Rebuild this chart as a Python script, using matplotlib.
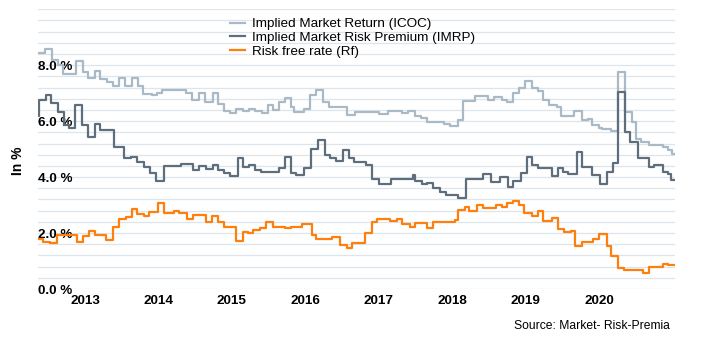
import matplotlib
matplotlib.use("Agg")
import matplotlib.pyplot as plt
import numpy as np

plt.rcParams['font.family'] = ['Liberation Sans', 'DejaVu Sans']

# ---- data (decimal years of step starts, values in %) ----
icoc_t = [2012.36, 2012.46, 2012.55, 2012.63, 2012.70, 2012.88, 2012.97, 2013.04, 2013.14, 2013.20,
          2013.30, 2013.38, 2013.46, 2013.54, 2013.64, 2013.72, 2013.79, 2013.91, 2013.98, 2014.05,
          2014.37, 2014.45, 2014.55, 2014.63, 2014.74, 2014.81, 2014.89, 2014.98, 2015.05, 2015.15,
          2015.23, 2015.32, 2015.41, 2015.49, 2015.56, 2015.64, 2015.72, 2015.80, 2015.85, 2015.98,
          2016.06, 2016.14, 2016.24, 2016.32, 2016.57, 2016.68, 2017.00, 2017.13, 2017.32, 2017.40,
          2017.49, 2017.57, 2017.66, 2017.88, 2017.97, 2018.08, 2018.15, 2018.31, 2018.48, 2018.57,
          2018.67, 2018.75, 2018.83, 2018.91, 2018.99, 2019.08, 2019.17, 2019.24, 2019.32, 2019.42,
          2019.48, 2019.66, 2019.76, 2019.84, 2019.90, 2019.99, 2020.04, 2020.16, 2020.25, 2020.35,
          2020.44, 2020.50, 2020.57, 2020.68, 2020.76, 2020.86, 2020.94, 2020.99]
icoc_v = [8.44, 8.57, 8.18, 8.00, 7.68, 8.15, 7.75, 7.55, 7.81, 7.52,
          7.40, 7.25, 7.56, 7.27, 7.56, 7.27, 6.98, 6.94, 7.00, 7.13,
          6.99, 6.77, 6.99, 6.69, 6.99, 6.63, 6.37, 6.31, 6.43, 6.38,
          6.43, 6.36, 6.31, 6.57, 6.39, 6.69, 6.83, 6.49, 6.33, 6.45,
          6.93, 7.10, 6.69, 6.51, 6.21, 6.33, 6.25, 6.36, 6.30, 6.36,
          6.18, 6.10, 5.98, 5.89, 5.81, 6.06, 6.71, 6.89, 6.77, 6.85,
          6.77, 6.69, 7.01, 7.17, 7.43, 7.17, 7.08, 6.77, 6.57, 6.49,
          6.19, 6.37, 6.04, 6.08, 5.86, 5.74, 5.72, 5.66, 7.76, 6.33,
          5.98, 5.38, 5.26, 5.14, 5.16, 5.08, 4.96, 4.82]

imrp_t = [2012.36, 2012.38, 2012.47, 2012.54, 2012.63, 2012.71, 2012.78, 2012.86, 2012.96, 2013.04,
          2013.14, 2013.20, 2013.39, 2013.53, 2013.63, 2013.71, 2013.80, 2013.88, 2013.97, 2014.07,
          2014.30, 2014.47, 2014.55, 2014.64, 2014.74, 2014.81, 2014.89, 2014.98, 2015.08, 2015.15,
          2015.23, 2015.32, 2015.39, 2015.64, 2015.72, 2015.80, 2015.87, 2015.98, 2016.07, 2016.17,
          2016.26, 2016.33, 2016.41, 2016.51, 2016.59, 2016.66, 2016.83, 2016.90, 2017.00, 2017.16,
          2017.47, 2017.49, 2017.58, 2017.66, 2017.74, 2017.83, 2017.91, 2018.08, 2018.18, 2018.41,
          2018.52, 2018.65, 2018.76, 2018.83, 2018.93, 2019.02, 2019.09, 2019.17, 2019.36, 2019.44,
          2019.50, 2019.58, 2019.69, 2019.77, 2019.90, 2020.01, 2020.11, 2020.18, 2020.26, 2020.35,
          2020.42, 2020.53, 2020.67, 2020.75, 2020.86, 2020.94, 2020.98]
imrp_v = [6.20, 6.75, 6.93, 6.65, 6.33, 5.86, 5.77, 6.57, 5.86, 5.44,
          5.89, 5.70, 5.06, 4.67, 4.73, 4.55, 4.37, 4.13, 3.87, 4.39,
          4.46, 4.25, 4.39, 4.29, 4.43, 4.25, 4.13, 4.04, 4.70, 4.37,
          4.43, 4.25, 4.19, 4.31, 4.73, 4.15, 4.07, 4.31, 5.02, 5.32,
          4.79, 4.67, 4.58, 4.96, 4.70, 4.55, 4.44, 3.95, 3.74, 3.92,
          4.06, 3.86, 3.74, 3.80, 3.60, 3.48, 3.36, 3.26, 3.95, 4.10,
          3.83, 3.99, 3.63, 3.87, 4.13, 4.73, 4.43, 4.33, 4.05, 4.31,
          4.19, 4.10, 4.90, 4.35, 4.07, 3.74, 4.19, 4.52, 7.05, 5.62,
          5.26, 4.70, 4.35, 4.43, 4.19, 4.10, 3.89]

rf_t = [2012.36, 2012.43, 2012.52, 2012.62, 2012.89, 2012.97, 2013.05, 2013.14, 2013.29, 2013.38,
        2013.46, 2013.56, 2013.64, 2013.71, 2013.80, 2013.87, 2013.99, 2014.07, 2014.21, 2014.28,
        2014.39, 2014.47, 2014.64, 2014.73, 2014.81, 2014.89, 2015.05, 2015.15, 2015.22, 2015.28,
        2015.38, 2015.47, 2015.56, 2015.72, 2015.81, 2015.95, 2016.09, 2016.15, 2016.26, 2016.36,
        2016.47, 2016.57, 2016.64, 2016.81, 2016.90, 2016.98, 2017.15, 2017.25, 2017.32, 2017.42,
        2017.49, 2017.66, 2017.73, 2018.03, 2018.08, 2018.17, 2018.23, 2018.34, 2018.41, 2018.50,
        2018.60, 2018.67, 2018.75, 2018.82, 2018.91, 2018.98, 2019.08, 2019.17, 2019.24, 2019.35,
        2019.44, 2019.52, 2019.61, 2019.67, 2019.77, 2019.92, 2019.99, 2020.10, 2020.16, 2020.26,
        2020.34, 2020.60, 2020.67, 2020.86, 2020.94, 2020.99]
rf_v = [1.80, 1.69, 1.63, 1.93, 1.69, 1.89, 2.07, 1.93, 1.75, 2.20,
        2.52, 2.58, 2.87, 2.69, 2.61, 2.76, 3.08, 2.73, 2.80, 2.73,
        2.52, 2.64, 2.38, 2.61, 2.38, 2.20, 1.73, 2.04, 1.99, 2.11,
        2.17, 2.40, 2.23, 2.17, 2.23, 2.32, 1.93, 1.77, 1.80, 1.87,
        1.57, 1.45, 1.63, 1.99, 2.40, 2.52, 2.43, 2.50, 2.32, 2.20,
        2.35, 2.17, 2.38, 2.46, 2.82, 2.94, 2.79, 3.00, 2.88, 2.90,
        3.02, 2.92, 3.08, 3.15, 3.02, 2.70, 2.61, 2.80, 2.44, 2.53,
        2.13, 2.05, 2.07, 1.52, 1.69, 1.79, 1.98, 1.52, 1.18, 0.75,
        0.68, 0.56, 0.77, 0.90, 0.85, 0.85]
end_year = 2021.01

years = [2013, 2014, 2015, 2016, 2017, 2018, 2019, 2020]
y_ticks = [0, 2, 4, 6, 8]
y_labels = ['0.0 %', '2.0 %', '4.0 %', '6.0 %', '8.0 %']

names = ['Implied Market Return (ICOC)', 'Implied Market Risk Premium (IMRP)', 'Risk free rate (Rf)']
colors = ['#a9b9c6', '#5e6e7d', '#ff7f0e']

# ---- figure ----
fig = plt.figure(figsize=(7.03, 3.42), dpi=100)
ax = fig.add_axes([38/703, 1-289/342, (675-38)/703, (289-9.3)/342])

for t, v, c, n in [(icoc_t, icoc_v, colors[0], names[0]),
                   (imrp_t, imrp_v, colors[1], names[1]),
                   (rf_t, rf_v, colors[2], names[2])]:
    tt = list(t) + [end_year]
    vv = list(v) + [v[-1]]
    ax.step(tt, vv, where='post', color=c, lw=1.6, label=n)

ax.set_xlim(2012.36, 2021.03)
ax.set_ylim(0, 10)
for s in ax.spines.values():
    s.set_visible(False)

ax.set_yticks(y_ticks, labels=y_labels)
ax.set_yticks(np.arange(0, 10.01, 0.4), minor=True)
ax.grid(True, axis='y', which='both', color='#dde5ec', lw=0.9)
ax.tick_params(axis='y', which='both', length=0, pad=0)
for lbl in ax.get_yticklabels():
    lbl.set_ha('left')
    lbl.set_fontweight('bold')
    lbl.set_fontsize(9.7)

ax.set_xticks(years, labels=[str(y) for y in years])
ax.tick_params(axis='x', length=0, pad=4)
for lbl in ax.get_xticklabels():
    lbl.set_fontweight('bold')
    lbl.set_fontsize(9.7)

leg = ax.legend(loc='upper left', bbox_to_anchor=((230-38)/637, 1-(18-9.3)/280),
                frameon=False, fontsize=9.7, handlelength=1.15, handletextpad=0.45,
                labelspacing=0.1, borderpad=0, borderaxespad=0)

fig.text(18/703, 1-161/342, 'In %', rotation=90, ha='center', va='center',
         fontweight='bold', fontsize=10)
fig.text(670/703, 1-326/342, 'Source: Market- Risk-Premia', ha='right', va='center',
         fontsize=8.7)

fig.savefig('out.png', dpi=100)
